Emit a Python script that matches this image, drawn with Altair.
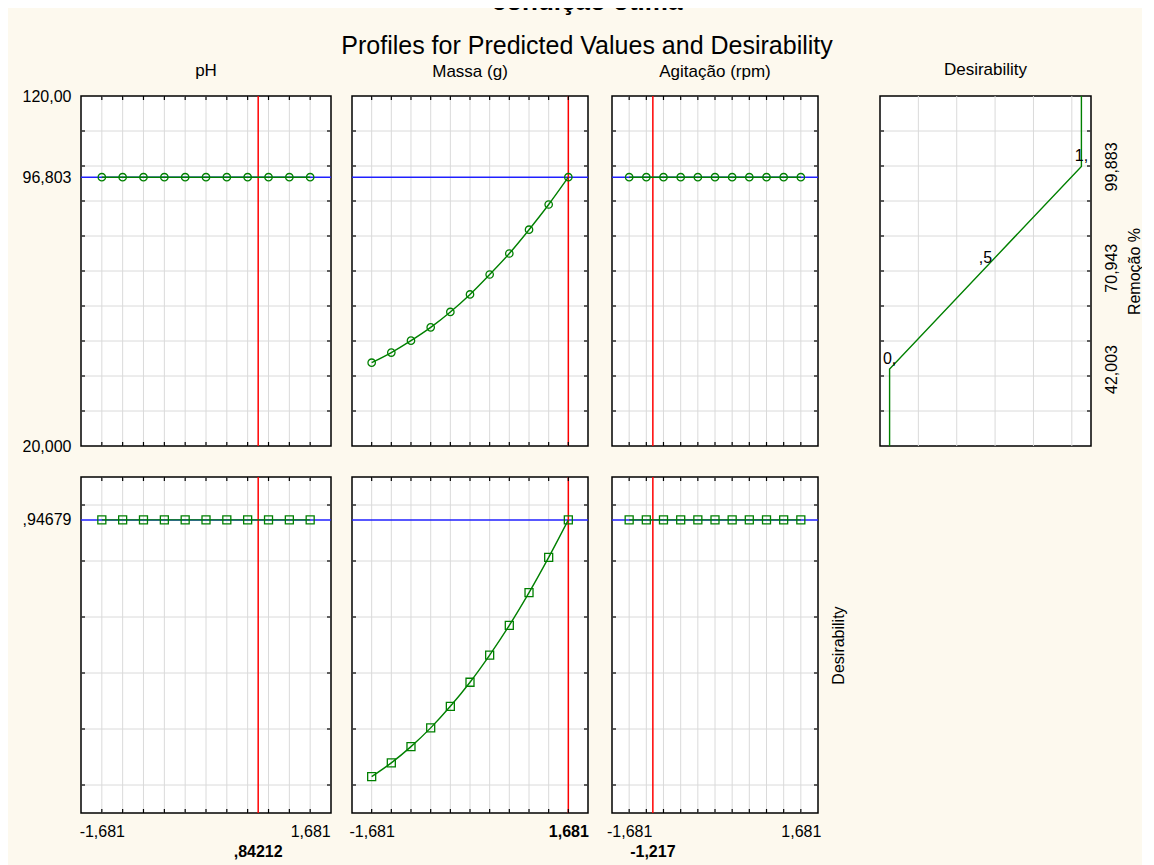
import altair as alt
import pandas as pd

# ---------------- data ----------------
factor_names = ["pH", "Massa (g)", "Agitação (rpm)"]
x_levels = [-1.681, -1.345, -1.009, -0.672, -0.336, 0.0, 0.336, 0.672, 1.009, 1.345, 1.681]

remocao_ph = [96.803, 96.803, 96.803, 96.803, 96.803, 96.803, 96.803, 96.803, 96.803, 96.803, 96.803]
remocao_massa = [43.8, 46.7, 50.1, 53.9, 58.3, 63.3, 69.0, 75.0, 81.8, 89.0, 96.803]
remocao_agit = [96.803, 96.803, 96.803, 96.803, 96.803, 96.803, 96.803, 96.803, 96.803, 96.803, 96.803]

desir_ph = [0.94679, 0.94679, 0.94679, 0.94679, 0.94679, 0.94679, 0.94679, 0.94679, 0.94679, 0.94679, 0.94679]
desir_massa = [0.030, 0.079, 0.137, 0.204, 0.281, 0.367, 0.464, 0.570, 0.687, 0.813, 0.94679]
desir_agit = [0.94679, 0.94679, 0.94679, 0.94679, 0.94679, 0.94679, 0.94679, 0.94679, 0.94679, 0.94679, 0.94679]

current_values = [0.84212, 1.681, -1.217]
current_labels = [",84212", "1,681", "-1,217"]
predicted_remocao = 96.803
predicted_desir = 0.94679

# desirability function of the response
dfun_desir = [0.0, 0.0, 1.0, 1.0]
dfun_remocao = [20.0, 42.003, 99.883, 120.0]
dfun_label_desir = [0.0, 0.5, 1.0]
dfun_label_remocao = [42.003, 70.943, 99.883]
dfun_label_text = ["0,", ",5", "1,"]

# axes: tick values and labels
x_label_values = [-1.681, 1.681]
x_label_text = ["-1,681", "1,681"]
remocao_label_values = [20.0, 96.803, 120.0]
remocao_label_text = ["20,000", "96,803", "120,00"]
desir_label_values = [0.94679]
desir_label_text = [",94679"]
remocao_right_values = [42.003, 70.943, 99.883]
remocao_right_text = ["42,003", "70,943", "99,883"]

remocao_grid = [30, 40, 50, 60, 70, 80, 90, 100, 110]
desir_grid = [0.0, 0.2, 0.4, 0.6, 0.8, 1.0]
dfun_grid = [0.15, 0.35, 0.55, 0.75, 0.95]

x_domain = [-2.0172, 2.0172]
remocao_domain = [20, 120]
desir_domain = [-0.1, 1.1]
dfun_domain = [-0.05, 1.05]

# ---------------- styling ----------------
FONT = "Arial"
GREEN = "#008000"
BLUE = "#2020ff"
RED = "#ff0000"
GRID = "#dadada"
CREAM = "#fdf9ee"
panel_widths = [250, 236, 206]
gap_widths = [21, 24, 62]
dfun_width = 211
top_h = 350
bot_h = 336


def label_expr(values, texts):
    parts = [f"abs(datum.value - ({v})) < 1e-6 ? '{t}'" for v, t in zip(values, texts)]
    return " : ".join(parts) + " : ''"


def panel(xs, ys, x_dom, y_dom, x_grid, y_grid, x_ticks, w, h,
          x_axis=None, y_axis=None, pred=None, cur=None, shape=None,
          cur_text=None, title=None, title_dy=0, texts=None, interp="monotone"):
    xsc = alt.Scale(domain=x_dom, nice=False, zero=False)
    ysc = alt.Scale(domain=y_dom, nice=False, zero=False)

    def X(f):
        return alt.X(f"{f}:Q", scale=xsc, axis=x_axis, title=None)

    def Y(f):
        return alt.Y(f"{f}:Q", scale=ysc, axis=y_axis, title=None)

    layers = []
    layers.append(alt.Chart(pd.DataFrame({"g": x_grid})).mark_rule(color=GRID, strokeWidth=1).encode(x=X("g")))
    layers.append(alt.Chart(pd.DataFrame({"g": y_grid})).mark_rule(color=GRID, strokeWidth=1).encode(y=Y("g")))
    if pred is not None:
        layers.append(alt.Chart(pd.DataFrame({"p": [pred]})).mark_rule(color=BLUE, strokeWidth=1.5).encode(y=Y("p")))
    if cur is not None:
        layers.append(alt.Chart(pd.DataFrame({"c": [cur]})).mark_rule(color=RED, strokeWidth=1.5).encode(x=X("c")))
    df = pd.DataFrame({"x": xs, "y": ys})
    layers.append(alt.Chart(df).mark_line(color=GREEN, strokeWidth=1.4, interpolate=interp).encode(x=X("x"), y=Y("y")))
    if shape is not None:
        size = 55 if shape == "circle" else 64
        layers.append(alt.Chart(df).mark_point(shape=shape, filled=False, color=GREEN, size=size,
                                               strokeWidth=1.3, opacity=1).encode(x=X("x"), y=Y("y")))
    if x_ticks:
        tdf = pd.DataFrame({"t": x_ticks})
        layers.append(alt.Chart(tdf).mark_rule(color="black", strokeWidth=1.2).encode(x=X("t"), y=alt.value(0), y2=alt.value(4)))
        layers.append(alt.Chart(tdf).mark_rule(color="black", strokeWidth=1.2).encode(x=X("t"), y=alt.value(h - 4), y2=alt.value(h)))
    ydf = pd.DataFrame({"t": y_grid})
    layers.append(alt.Chart(ydf).mark_rule(color="black", strokeWidth=1.2).encode(y=Y("t"), x=alt.value(0), x2=alt.value(4)))
    layers.append(alt.Chart(ydf).mark_rule(color="black", strokeWidth=1.2).encode(y=Y("t"), x=alt.value(w - 4), x2=alt.value(w)))
    if cur_text is not None:
        layers.append(alt.Chart(pd.DataFrame({"c": [cur], "t": [cur_text]})).mark_text(
            font=FONT, fontSize=16, fontWeight="bold", color="black", align="center", baseline="middle"
        ).encode(x=X("c"), y=alt.value(h + 39), text="t:N"))
    if texts is not None:
        tx, ty, tt = texts
        layers.append(alt.Chart(pd.DataFrame({"x": tx, "y": ty, "t": tt})).mark_text(
            font=FONT, fontSize=16, color="black", align="center", baseline="bottom", dy=-2
        ).encode(x=X("x"), y=Y("y"), text="t:N"))
    props = dict(width=w, height=h)
    if title is not None:
        props["title"] = alt.Title(text=title, fontSize=17, fontWeight="normal", font=FONT, color="black",
                                   anchor="middle", baseline="alphabetic", offset=1.5, dy=title_dy)
    return alt.layer(*layers).properties(**props)


def spacer(w):
    return alt.Chart(pd.DataFrame({"v": [0]})).mark_point(opacity=0).encode(
        x=alt.X("v:Q", axis=None), y=alt.Y("v:Q", axis=None)
    ).properties(width=w, height=1, view=alt.ViewBackground(fillOpacity=0, strokeOpacity=0, strokeWidth=0))


def x_bottom_axis(cur):
    bold_test = f"abs(datum.value - ({cur})) < 1e-6"
    return alt.Axis(orient="bottom", values=x_label_values, labelExpr=label_expr(x_label_values, x_label_text),
                    ticks=False, domain=False, grid=False, labelPadding=10, labelFlush=False,
                    labelFontWeight={"condition": {"test": bold_test, "value": "bold"}, "value": "normal"})


remocao_series = [remocao_ph, remocao_massa, remocao_agit]
desir_series = [desir_ph, desir_massa, desir_agit]

left_remocao_axis = alt.Axis(orient="left", values=remocao_label_values,
                             labelExpr=label_expr(remocao_label_values, remocao_label_text),
                             ticks=False, domain=False, grid=False, labelPadding=10, labelFlush=False)
left_desir_axis = alt.Axis(orient="left", values=desir_label_values,
                           labelExpr=label_expr(desir_label_values, desir_label_text),
                           ticks=False, domain=False, grid=False, labelPadding=10, labelFlush=False)
right_desir_title_axis = alt.Axis(orient="right", labels=False, ticks=False, domain=False, grid=False,
                                  title="Desirability", titleAngle=270, titleBaseline="top",
                                  titleFontSize=16, titleFontWeight="normal", titleFont=FONT,
                                  titleColor="black", titlePadding=12)
right_remocao_axis = alt.Axis(orient="right", values=remocao_right_values,
                              labelExpr=label_expr(remocao_right_values, remocao_right_text),
                              labelAngle=270, labelAlign="center", labelBaseline="top",
                              ticks=False, domain=False, grid=False, labelPadding=12, labelFlush=False,
                              title="Remoção %", titleAngle=270, titleBaseline="top",
                              titleFontSize=16, titleFontWeight="normal", titleFont=FONT,
                              titleColor="black", titlePadding=7)

top_row = []
bot_row = []
for i in range(3):
    w = panel_widths[i]
    cur = current_values[i]
    on_edge = any(abs(cur - v) < 1e-6 for v in x_label_values)
    top = panel(x_levels, remocao_series[i], x_domain, remocao_domain, x_levels, remocao_grid, x_levels, w, top_h,
                y_axis=left_remocao_axis if i == 0 else None, pred=predicted_remocao, cur=cur,
                shape="circle", title=factor_names[i], title_dy=6 if i == 0 else 0)
    bot = panel(x_levels, desir_series[i], x_domain, desir_domain, x_levels, desir_grid, x_levels, w, bot_h,
                x_axis=x_bottom_axis(cur),
                y_axis=left_desir_axis if i == 0 else (right_desir_title_axis if i == 2 else None),
                pred=predicted_desir, cur=cur, shape="square",
                cur_text=None if on_edge else current_labels[i])
    top_row += [top, spacer(gap_widths[i])]
    bot_row += [bot, spacer(gap_widths[i])]

dfun_panel = panel(dfun_desir, dfun_remocao, dfun_domain, remocao_domain, dfun_grid, remocao_grid, None,
                   dfun_width, top_h, y_axis=right_remocao_axis, title="Desirability", interp="linear",
                   texts=(dfun_label_desir, dfun_label_remocao, dfun_label_text))
top_row.append(dfun_panel)

chart = alt.concat(
    *(top_row + bot_row), columns=7, spacing={"row": 31, "column": 0}, bounds="flush", align="each",
    title=alt.Title(text="condição ótima", subtitle="Profiles for Predicted Values and Desirability",
                    fontSize=26, fontWeight="bold", font=FONT, color="black",
                    subtitleFontSize=25, subtitleFont=FONT, subtitleColor="black", subtitleFontWeight="normal",
                    subtitlePadding=18.5, anchor="middle", offset=1, dx=5)
).properties(
    background=CREAM,
    padding={"left": 13, "top": -19, "right": -1, "bottom": 4},
).configure_view(
    fill="white", stroke="black", strokeWidth=1.5
).configure_axis(
    labelFont=FONT, labelFontSize=16, labelColor="black", titleFont=FONT
)

chart.save("out.html", embed_options={"renderer": "svg", "actions": False})
